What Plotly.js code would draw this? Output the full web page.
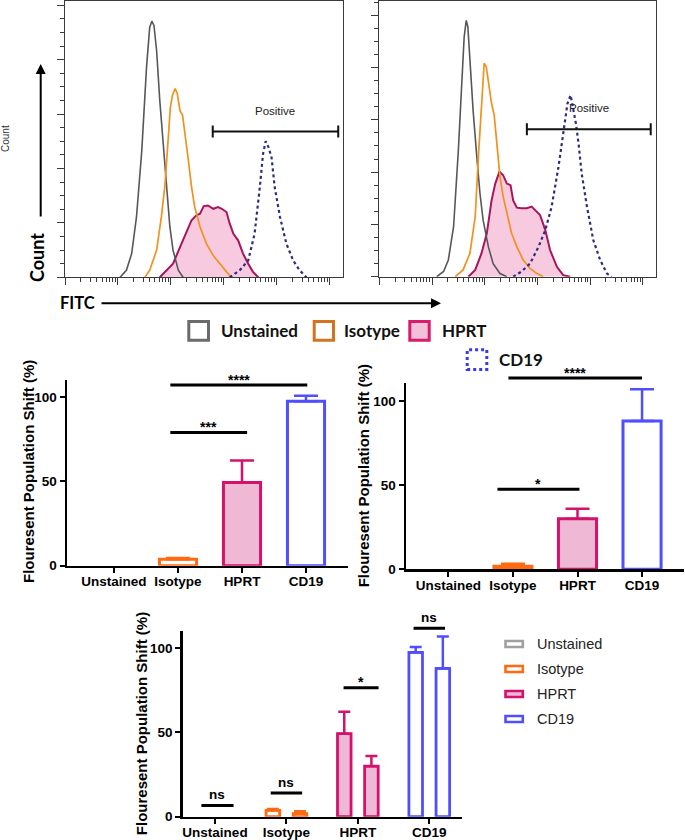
<!DOCTYPE html>
<html><head><meta charset="utf-8">
<script src="https://cdn.plot.ly/plotly-3.0.1.min.js"></script>
<style>html,body{margin:0;padding:0;background:#fff}#chart{width:685px;height:840px}</style>
</head><body><div id="chart"></div>
<script>
// ---------------- DATA ----------------
// Histograms (x: FITC in log10 decades, y: count in arbitrary units)
const hL_unst_x = [1.04,1.16,1.26,1.35,1.45,1.54,1.60,1.64,1.68,1.73,1.79,1.86,1.92,1.98,2.04,2.14,2.23];
const hL_unst_y = [0,0.13,0.44,1.11,2.33,3.87,4.60,4.71,4.63,4.17,3.25,2.33,1.54,0.93,0.50,0.13,0];
const hL_iso_x  = [1.51,1.60,1.73,1.82,1.89,1.95,1.99,2.03,2.08,2.12,2.17,2.22,2.26,2.33,2.39,2.45,2.55,2.67,2.80,2.92,3.05,3.14];
const hL_iso_y  = [0,0.13,0.50,1.11,1.72,2.52,3.13,3.35,3.47,3.38,3.07,2.98,2.64,2.15,1.66,1.29,0.93,0.62,0.40,0.25,0.10,0];
const hL_hprt_x = [1.79,1.92,2.04,2.20,2.30,2.39,2.48,2.55,2.62,2.70,2.80,2.89,2.96,3.05,3.11,3.18,3.27,3.36,3.46,3.55,3.65];
const hL_hprt_y = [0,0.13,0.25,0.62,0.86,1.05,1.14,1.17,1.31,1.32,1.26,1.29,1.26,1.20,0.99,0.80,0.68,0.44,0.25,0.10,0];
const hL_cd19_x = [3.11,3.30,3.46,3.58,3.68,3.74,3.79,3.84,3.90,3.96,4.06,4.18,4.31,4.43,4.56];
const hL_cd19_y = [0,0.13,0.31,0.80,1.66,2.27,2.50,2.40,2.21,1.66,1.11,0.62,0.31,0.13,0];

const hR_unst_x = [1.09,1.22,1.31,1.41,1.50,1.56,1.61,1.65,1.68,1.72,1.78,1.85,1.91,1.97,2.07,2.16,2.29,2.42];
const hR_unst_y = [0,0.10,0.32,0.96,2.42,3.69,4.58,4.90,4.78,4.14,3.18,2.29,1.59,1.08,0.57,0.25,0.06,0];
const hR_iso_x  = [1.44,1.59,1.72,1.82,1.88,1.94,1.99,2.03,2.07,2.13,2.18,2.23,2.29,2.35,2.42,2.51,2.61,2.73,2.86,2.99,3.11];
const hR_iso_y  = [0,0.13,0.45,1.15,2.29,3.38,4.08,4.01,3.76,3.31,3.09,2.48,1.91,1.53,1.21,0.83,0.57,0.32,0.16,0.06,0];
const hR_hprt_x = [1.69,1.82,1.94,2.04,2.13,2.20,2.28,2.35,2.42,2.49,2.54,2.61,2.70,2.80,2.89,2.96,3.05,3.15,3.24,3.37,3.49,3.62];
const hR_hprt_y = [0,0.13,0.45,0.83,1.46,1.78,2.01,1.94,1.78,1.75,1.46,1.32,1.31,1.31,1.34,1.27,1.18,0.89,0.51,0.19,0.03,0];
const hR_cd19_x = [2.54,2.70,2.86,3.02,3.15,3.27,3.40,3.49,3.57,3.63,3.68,3.73,3.78,3.84,3.94,4.06,4.19,4.32,4.41];
const hR_cd19_y = [0,0.10,0.25,0.57,0.89,1.34,2.10,2.74,3.31,3.47,3.18,2.93,2.55,1.97,1.34,0.70,0.32,0.06,0];

// "Positive" gates (left, right histogram)
const gate_x0 = [2.79, 2.80];
const gate_x1 = [5.16, 5.15];
const gate_y  = [2.68, 2.82];

// Bar charts
const categories = ['Unstained','Isotype','HPRT','CD19'];
const shiftA = [0, 3.8, 49.3, 97.5];
const errA   = [0, 0.8, 13.0, 3.2];
const shiftB = [0, 1.8, 30.0, 88.0];
const errB   = [0, 1.5, 6.0, 18.9];

// Significance brackets
const sigA_x0 = [0.88, 0.88], sigA_x1 = [2.08, 3.02], sigA_y = [78.9, 107.1], sigA_txt = ['***','****'];
const sigB_x0 = [0.76, 0.93], sigB_x1 = [2.03, 3.00], sigB_y = [47.5, 113.5], sigB_txt = ['*','****'];
const sigC_x0 = [-0.19, 0.78, 1.80, 2.78], sigC_x1 = [0.26, 1.22, 2.29, 3.22], sigC_y = [6.7, 14.0, 76.5, 111.9], sigC_txt = ['ns','ns','*','ns'];

// ---------------- STYLE ----------------
const W = 685, H = 840;
const px = v => v / W;
const py = v => 1 - v / H;
const ARIAL = 'Arial, "Liberation Sans", sans-serif';
const LATO = 'Lato, "Open Sans", sans-serif';

const barFill   = ['#ffffff', '#ffffff', '#efb8d4', '#ffffff'];
const barStroke = ['#a0a0a0', '#ff6a10', '#d4126c', '#4f4fff'];
const histCol = {unst:'#575757', iso:'#f0921e', hprt:'#a8155c', cd19:'#2c2c80'};

function logMinor(maxD){const o=[];for(let d=0;d<6;d++)for(let k=2;k<10;k++){const v=d+Math.log10(k);if(v<maxD)o.push(v);}return o;}
function quarterMinor(maxV){const o=[];for(let i=1;i*0.25<maxV;i++){if(i%4!==0)o.push(i*0.25);}return o;}

function histAxis(dom, range, anchor, isX){
  return {domain:dom, range:range, anchor:anchor, showline:true, mirror:true, linecolor:'#3a3a3a', linewidth:1,
    ticks:'outside', tickmode:'array', tickvals:[0,1,2,3,4,5], ticklen:7, tickwidth:1, tickcolor:'#3a3a3a',
    showticklabels:false, showgrid:false, zeroline:false, fixedrange:true,
    minor:{tickmode:'array', tickvals: isX ? logMinor(range[1]) : quarterMinor(range[1]), ticks:'outside', ticklen:4, tickwidth:1, tickcolor:'#3a3a3a', showgrid:false}};
}
function barX(dom, range, anchor){
  return {domain:dom, range:range, anchor:anchor, type:'category', showline:true, linecolor:'#000', linewidth:2.5,
    ticks:'outside', ticklen:5, tickwidth:2, tickcolor:'#000', showgrid:false, zeroline:false, fixedrange:true,
    ticklabelstandoff:-3,
    tickfont:{family:ARIAL, size:13.5, color:'#000', weight:'bold'}};
}
function barY(dom, range, anchor){
  return {domain:dom, range:range, anchor:anchor, showline:true, linecolor:'#000', linewidth:2.5,
    ticks:'outside', ticklen:5, tickwidth:2, tickcolor:'#000', tickmode:'array', tickvals:[0,50,100],
    showgrid:false, zeroline:false, fixedrange:true, tickfont:{family:ARIAL, size:13.5, color:'#000', weight:'bold'}};
}

// geometry (pixels)
const G = {
  hL:{x:[65,343], y:[277.3,0.5], yr:5.09},
  hR:{x:[379.3,656], y:[276.7,0.5], yr:5.28},
  bA:{x:[67,348], xr:[-0.734,3.656], y:[565.7,380], yr:110.1, ext:355},
  bB:{x:[406,684], xr:[-0.657,3.65], y:[569.3,383.3], yr:110.4, ext:365},
  bC:{x:[182.7,461.7], xr:[-0.452,3.454], y:[816.7,630.7], yr:110.4, ext:612}
};

const layout = {
  width:W, height:H, margin:{l:0,r:0,t:0,b:0}, paper_bgcolor:'#fff', plot_bgcolor:'rgba(0,0,0,0)',
  showlegend:false, barmode:'overlay',
  xaxis:  histAxis([px(G.hL.x[0]),px(G.hL.x[1])], [0,5.25], 'y', true),
  yaxis:  histAxis([py(G.hL.y[0]),py(G.hL.y[1])], [0,G.hL.yr], 'x', false),
  xaxis2: histAxis([px(G.hR.x[0]),px(G.hR.x[1])], [0,5.25], 'y2', true),
  yaxis2: histAxis([py(G.hR.y[0]),py(G.hR.y[1])], [0,G.hR.yr], 'x2', false),
  xaxis3: barX([px(G.bA.x[0]),px(G.bA.x[1])], G.bA.xr, 'y3'),
  yaxis3: barY([py(G.bA.y[0]),py(G.bA.y[1])], [0,G.bA.yr], 'x3'),
  xaxis4: barX([px(G.bB.x[0]),px(G.bB.x[1])], G.bB.xr, 'y4'),
  yaxis4: barY([py(G.bB.y[0]),py(G.bB.y[1])], [0,G.bB.yr], 'x4'),
  xaxis5: barX([px(G.bC.x[0]),px(G.bC.x[1])], G.bC.xr, 'y5'),
  yaxis5: barY([py(G.bC.y[0]),py(G.bC.y[1])], [0,G.bC.yr], 'x5'),
  shapes:[], annotations:[]
};
// invisible overlay subplots for significance brackets (extend above the axis top)
[['bA',6],['bB',7],['bC',8]].forEach(([k,n])=>{
  const g=G[k];
  const top = g.yr*(g.y[0]-g.ext)/(g.y[0]-g.y[1]);
  layout['xaxis'+n] = {domain:[px(g.x[0]),px(g.x[1])], range:g.xr, anchor:'y'+n, visible:false, fixedrange:true};
  layout['yaxis'+n] = {domain:[py(g.y[0]),py(g.ext)], range:[0,top], anchor:'x'+n, visible:false, fixedrange:true};
});

const traces = [];
function histTraces(xa, ya, d){
  traces.push({type:'scatter', mode:'lines', x:d.hx, y:d.hy, xaxis:xa, yaxis:ya, fill:'tozeroy', fillcolor:'rgba(240,150,192,0.5)', line:{color:histCol.hprt, width:2}, hoverinfo:'skip'});
  traces.push({type:'scatter', mode:'lines', x:d.ux, y:d.uy, xaxis:xa, yaxis:ya, line:{color:histCol.unst, width:1.6}, hoverinfo:'skip'});
  traces.push({type:'scatter', mode:'lines', x:d.ix, y:d.iy, xaxis:xa, yaxis:ya, line:{color:histCol.iso, width:1.7}, hoverinfo:'skip'});
  traces.push({type:'scatter', mode:'lines', x:d.cx, y:d.cy, xaxis:xa, yaxis:ya, line:{color:histCol.cd19, width:2.2, dash:'dot'}, hoverinfo:'skip'});
}
histTraces('x','y',{hx:hL_hprt_x,hy:hL_hprt_y,ux:hL_unst_x,uy:hL_unst_y,ix:hL_iso_x,iy:hL_iso_y,cx:hL_cd19_x,cy:hL_cd19_y});
histTraces('x2','y2',{hx:hR_hprt_x,hy:hR_hprt_y,ux:hR_unst_x,uy:hR_unst_y,ix:hR_iso_x,iy:hR_iso_y,cx:hR_cd19_x,cy:hR_cd19_y});

// gates
[['x','y',0],['x2','y2',1]].forEach(([xa,ya,i])=>{
  layout.shapes.push({type:'line', xref:xa, yref:ya, x0:gate_x0[i], x1:gate_x1[i], y0:gate_y[i], y1:gate_y[i], line:{color:'#111', width:2}});
  [gate_x0[i], gate_x1[i]].forEach(xv=>{
    layout.shapes.push({type:'line', xref:xa, yref:ya, ysizemode:'pixel', yanchor:gate_y[i], x0:xv, x1:xv, y0:-6, y1:6, line:{color:'#111', width:2}});
  });
  layout.annotations.push({xref:xa, yref:ya, x:(gate_x0[i]+gate_x1[i])/2, y:gate_y[i], yshift:21, text:'Positive', showarrow:false, xanchor:'center', yanchor:'middle', font:{family:ARIAL, size:11.5, color:'#222'}});
});

// bars
function barTraces(xa, ya, vals, errs, width, offset, capW, lw){
  categories.forEach((c,i)=>{
    const zero = vals[i] === 0;
    const t = {type:'bar', x:[c], y:[vals[i]], xaxis:xa, yaxis:ya, width:width,
      marker:{color:barFill[i], line:{color:barStroke[i], width: zero ? 0 : lw}},
      error_y:{visible:!zero, type:'data', symmetric:false, array:[errs[i]], arrayminus:[0], color:barStroke[i], thickness:2.5, width:capW},
      hoverinfo:'skip'};
    if (offset !== null) t.offset = offset;
    traces.push(t);
  });
}
barTraces('x3','y3', shiftA, errA, 0.58, null, 12, 3);
barTraces('x4','y4', shiftB, errB, 0.59, null, 12, 3);
barTraces('x5','y5', shiftA, errA, 0.19, -0.285, 6, 2.8);
barTraces('x5','y5', shiftB, errB, 0.19, 0.095, 6, 2.8);
[6,7,8].forEach(n=>traces.push({type:'scatter', x:[], y:[], xaxis:'x'+n, yaxis:'y'+n, hoverinfo:'skip'}));

// significance
function sig(n, x0s, x1s, ys, txts){
  x0s.forEach((x0,i)=>{
    layout.shapes.push({type:'line', xref:'x'+n, yref:'y'+n, x0:x0, x1:x1s[i], y0:ys[i], y1:ys[i], line:{color:'#000', width:3}});
    const isNs = txts[i]==='ns';
    layout.annotations.push({xref:'x'+n, yref:'y'+n, x:(x0+x1s[i])/2, y:ys[i], text:txts[i], showarrow:false, xanchor:'center', yanchor:'bottom',
      yshift: isNs ? 1.5 : -4.5, font:{family:ARIAL, size: isNs ? 13.5 : 14, color:'#000', weight:'bold'}});
  });
}
sig(6, sigA_x0, sigA_x1, sigA_y, sigA_txt);
sig(7, sigB_x0, sigB_x1, sigB_y, sigB_txt);
sig(8, sigC_x0, sigC_x1, sigC_y, sigC_txt);

// y-axis titles of bar charts
[[28,472],[363.3,476],[141.7,723.5]].forEach(([x,y])=>{
  layout.annotations.push({xref:'paper', yref:'paper', x:px(x), y:py(y), text:'Flouresent Population Shift (%)', textangle:-90, showarrow:false,
    xanchor:'center', yanchor:'middle', font:{family:ARIAL, size:15, color:'#000', weight:'bold'}});
});

// histogram labels & arrows
layout.annotations.push({xref:'paper', yref:'paper', x:px(6), y:py(139), text:'Count', textangle:-90, showarrow:false, xanchor:'center', yanchor:'middle', font:{family:ARIAL, size:10, color:'#333'}});
layout.annotations.push({xref:'paper', yref:'paper', x:px(36.5), y:py(257.5), text:'Count', textangle:-90, showarrow:false, xanchor:'center', yanchor:'middle', font:{family:LATO, size:18, color:'#000', weight:'bold'}});
layout.annotations.push({xref:'paper', yref:'paper', x:px(58), y:py(302.5), text:'FITC', showarrow:false, xanchor:'left', yanchor:'middle', font:{family:LATO, size:16.5, color:'#000', weight:'bold'}});
layout.annotations.push({xref:'paper', yref:'paper', x:px(40.7), y:py(64), ax:0, ay:154, text:'', showarrow:true, arrowhead:2, arrowsize:1, arrowwidth:2, arrowcolor:'#000'});
layout.annotations.push({xref:'paper', yref:'paper', x:px(441), y:py(303.3), ax:-341, ay:0, text:'', showarrow:true, arrowhead:2, arrowsize:1, arrowwidth:2, arrowcolor:'#000'});

// top legend
const topLeg = [
  {x:[187.3,210], y:[320,341.7], stroke:'#6b6b6b', fill:'#fff', dash:'solid', label:'Unstained', tx:219.3, ty:330.5},
  {x:[312.7,335], y:[320,341.7], stroke:'#d4731e', fill:'#fff', dash:'solid', label:'Isotype', tx:341.7, ty:330.5},
  {x:[408.3,430.7], y:[320,341.7], stroke:'#d81b6b', fill:'#f2c0d8', dash:'solid', label:'HPRT', tx:440, ty:330.5},
  {x:[465.7,488.3], y:[348.3,371], stroke:'#3a3ae6', fill:'#fff', dash:'dot', label:'CD19', tx:496.7, ty:359.5}
];
topLeg.forEach(it=>{
  layout.shapes.push({type:'rect', xref:'paper', yref:'paper', x0:px(it.x[0]+1.5), x1:px(it.x[1]-1.5), y0:py(it.y[1]-1.5), y1:py(it.y[0]+1.5),
    fillcolor:it.fill, line:{color:it.stroke, width:3, dash:it.dash}});
  layout.annotations.push({xref:'paper', yref:'paper', x:px(it.tx), y:py(it.ty), text:it.label, showarrow:false, xanchor:'left', yanchor:'middle',
    font:{family:LATO, size:17, color:'#111', weight:'bold'}});
});

// bottom legend
categories.forEach((c,i)=>{
  const yc = 644 + 25*i;
  layout.shapes.push({type:'rect', xref:'paper', yref:'paper', x0:px(505.5), x1:px(522.8), y0:py(yc+3), y1:py(yc-3),
    fillcolor:barFill[i], line:{color:barStroke[i], width:2.6}});
  layout.annotations.push({xref:'paper', yref:'paper', x:px(535), y:py(yc), text:c, showarrow:false, xanchor:'left', yanchor:'middle',
    font:{family:ARIAL, size:14.5, color:'#222'}});
});

Plotly.newPlot('chart', traces, layout, {displayModeBar:false, staticPlot:true});
</script></body></html>
